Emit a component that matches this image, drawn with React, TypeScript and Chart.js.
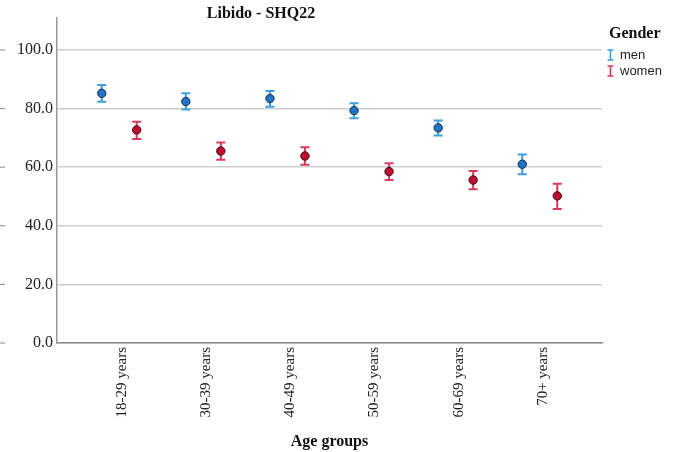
import { useEffect, useRef } from "react";
import { Chart, registerables } from "chart.js";

Chart.register(...registerables);

const categories = ["18-29 years", "30-39 years", "40-49 years", "50-59 years", "60-69 years", "70+ years"];
const seriesNames = ["men", "women"];
const menMean = [85.2, 82.4, 83.4, 79.3, 73.4, 61.0];
const menLower = [82.3, 79.7, 80.6, 76.7, 70.8, 57.6];
const menUpper = [88.0, 85.2, 86.0, 81.8, 75.9, 64.3];
const womenMean = [72.7, 65.5, 63.8, 58.5, 55.6, 50.2];
const womenLower = [69.6, 62.5, 60.8, 55.6, 52.5, 45.7];
const womenUpper = [75.5, 68.4, 66.8, 61.3, 58.7, 54.3];
const yTicks = [0, 20, 40, 60, 80, 100];

const SERIF = "'Liberation Serif', 'Times New Roman', serif";
const SANS = "'Liberation Sans', Arial, sans-serif";

const groupOffset = [-0.208, 0.208];
const barColors = ["#3d9fdf", "#d83a5e"];
const fillColors = ["#1f74c6", "#c00c30"];
const edgeColors = ["#1a2a44", "#3a0a16"];

const lowers = [menLower, womenLower];
const uppers = [menUpper, womenUpper];

export default function App() {
  const ref = useRef<HTMLCanvasElement | null>(null);

  useEffect(() => {
    if (!ref.current) return;

    const errorBars = {
      id: "errorBars",
      beforeDatasetsDraw(chart: any) {
        const ctx = chart.ctx;
        const xs = chart.scales.x;
        const ys = chart.scales.y;
        ctx.save();
        [0, 1].forEach((s) => {
          ctx.strokeStyle = barColors[s];
          ctx.lineWidth = 2;
          categories.forEach((_, i) => {
            const px = xs.getPixelForValue(i + groupOffset[s]);
            const top = ys.getPixelForValue(uppers[s][i]);
            const bot = ys.getPixelForValue(lowers[s][i]);
            ctx.beginPath();
            ctx.moveTo(px, top);
            ctx.lineTo(px, bot);
            ctx.moveTo(px - 4.5, top);
            ctx.lineTo(px + 4.5, top);
            ctx.moveTo(px - 4.5, bot);
            ctx.lineTo(px + 4.5, bot);
            ctx.stroke();
          });
        });
        ctx.restore();
      },
    };

    const decorations = {
      id: "decorations",
      afterDraw(chart: any) {
        const ctx = chart.ctx;
        const ys = chart.scales.y;
        ctx.save();
        // small outer tick dashes
        ctx.strokeStyle = "#999";
        ctx.lineWidth = 1.2;
        yTicks.forEach((v) => {
          const py = ys.getPixelForValue(v);
          ctx.beginPath();
          ctx.moveTo(0, py);
          ctx.lineTo(5, py);
          ctx.stroke();
        });
        // title
        ctx.fillStyle = "#111";
        ctx.font = `bold 16px ${SERIF}`;
        ctx.textAlign = "center";
        ctx.textBaseline = "alphabetic";
        ctx.fillText("Libido - SHQ22", 261, 18);
        // legend
        ctx.textAlign = "left";
        ctx.fillText("Gender", 609, 38);
        ctx.font = `13px ${SANS}`;
        ctx.textBaseline = "middle";
        seriesNames.forEach((name, s) => {
          const cy = 55 + s * 16;
          const cx = 610.5;
          ctx.strokeStyle = barColors[s];
          ctx.lineWidth = 1.6;
          ctx.beginPath();
          ctx.moveTo(cx, cy - 5);
          ctx.lineTo(cx, cy + 5);
          ctx.moveTo(cx - 3, cy - 5);
          ctx.lineTo(cx + 3, cy - 5);
          ctx.moveTo(cx - 3, cy + 5);
          ctx.lineTo(cx + 3, cy + 5);
          ctx.stroke();
          ctx.fillStyle = "#222";
          ctx.fillText(name, 620, cy);
        });
        ctx.restore();
      },
    };

    const chart = new Chart(ref.current, {
      type: "scatter",
      data: {
        datasets: [menMean, womenMean].map((vals, s) => ({
          label: seriesNames[s],
          data: vals.map((y, i) => ({ x: i + groupOffset[s], y })),
          backgroundColor: fillColors[s],
          borderColor: edgeColors[s],
          borderWidth: 1,
          pointRadius: 4.2,
          pointHoverRadius: 4.2,
          showLine: false,
        })),
      },
      options: {
        animation: false,
        responsive: true,
        maintainAspectRatio: false,
        layout: { padding: { left: 0, top: 18, right: 79, bottom: 0 } },
        plugins: {
          legend: { display: false },
          title: { display: false },
          tooltip: { enabled: false },
        },
        scales: {
          x: {
            type: "linear",
            min: -0.74,
            max: 5.74,
            afterFit: (scale: any) => {
              scale.height = 109;
            },
            afterBuildTicks: (scale: any) => {
              scale.ticks = categories.map((_, i) => ({ value: i }));
            },
            grid: { display: false, drawTicks: false },
            border: { display: true, color: "#8a8a8a", width: 1.5 },
            ticks: {
              autoSkip: false,
              minRotation: 90,
              maxRotation: 90,
              padding: 4,
              labelOffset: 3,
              color: "#222",
              font: { family: SERIF, size: 15 },
              callback: (v: any) => categories[Math.round(Number(v))] ?? "",
            },
            title: {
              display: true,
              text: "Age groups",
              color: "#111",
              font: { family: SERIF, size: 16, weight: "bold" },
              padding: { top: 0, bottom: 1 },
            },
          },
          y: {
            min: 0,
            max: 110.9,
            afterFit: (scale: any) => {
              scale.width = 57;
            },
            afterBuildTicks: (scale: any) => {
              scale.ticks = yTicks.map((v) => ({ value: v }));
            },
            grid: { color: "#cfcfcf", lineWidth: 1.5, drawTicks: false },
            border: { display: true, color: "#9a9a9a", width: 1.5 },
            ticks: {
              padding: 4,
              color: "#222",
              font: { family: SERIF, size: 16 },
              callback: (v: any) => Number(v).toFixed(1),
            },
          },
        },
      },
      plugins: [errorBars, decorations],
    });

    return () => chart.destroy();
  }, []);

  return (
    <div style={{ position: "absolute", left: 0, top: 0, width: 681, height: 452, background: "#fff" }}>
      <canvas ref={ref} />
    </div>
  );
}
